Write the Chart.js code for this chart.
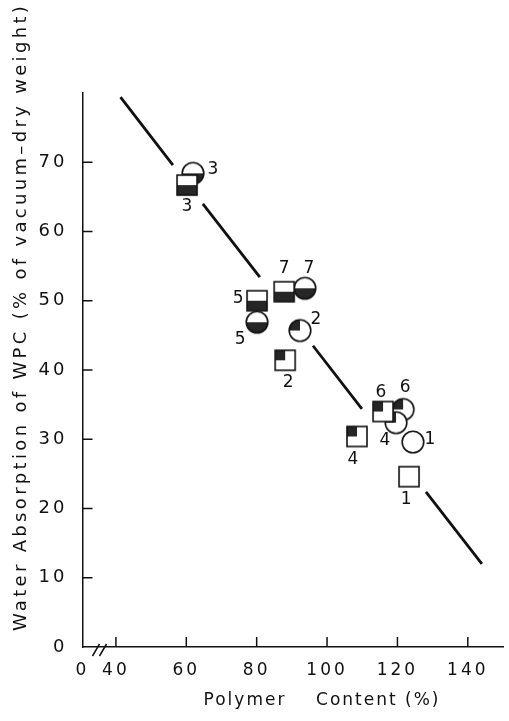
<!DOCTYPE html>
<html>
<head>
<meta charset="utf-8">
<script src="https://cdn.jsdelivr.net/npm/chart.js@4.4.1/dist/chart.umd.min.js"></script>
<style>
  html, body { margin: 0; padding: 0; background: #fff; }
  #wrap { width: 509px; height: 721px; position: relative; }
</style>
</head>
<body>
<div id="wrap"><canvas id="chart"></canvas></div>
<script>
// sample sets, drawn in this order (4 sits on top of 6)
const sets = ['1', '2', '3', '5', '6', '4', '7'];
const squareX = [123.3, 88.1, 60.2, 80.1, 115.9, 108.5, 87.8];
const squareY = [24.6, 41.4, 66.7, 50.0, 34.0, 30.4, 51.3];
const circleX = [124.4, 92.3, 61.9, 80.1, 121.6, 119.6, 93.7];
const circleY = [29.6, 45.7, 68.4, 46.9, 34.3, 32.4, 51.8];

// regression line, broken where it passes the markers
const lineX = [41.3, 56.2, null, 64.7, 80.9, null, 96.0, 109.9, null, 128.1, 144.0];
const lineY = [79.4, 69.6, null, 64.0, 53.4, null, 43.5, 34.4, null, 22.4, 12.0];

const xTicks = [40, 60, 80, 100, 120, 140];
const yTicks = [0, 10, 20, 30, 40, 50, 60, 70];
const xMin = 30.5, xMax = 150, yMin = 0, yMax = 80;

const xTitle = 'Polymer    Content (%)';
const yTitle = 'Water Absorption of WPC (% of vacuum\u2013dry weight)';

// marker look per set
const fillType = { '1': 'none', '2': 'quarter', '4': 'quarter', '6': 'quarter', '3': 'half', '5': 'half', '7': 'half' };
const squareLabelOffset = { '1': [-3, 23], '2': [3, 22], '3': [0, 21], '4': [-4, 23], '5': [-19, -2], '6': [-2, -19], '7': [0, -23] };
const circleLabelOffset = { '1': [17, -2], '2': [16, -11], '3': [20, -4], '4': [-11, 18], '5': [-17, 17], '6': [2, -22], '7': [4, -20] };

const FONT = '"DejaVu Sans", sans-serif';
const DARK = '#262626';

function makeMarker(shape, fill) {
  const c = document.createElement('canvas');
  c.width = 26; c.height = 26;
  const g = c.getContext('2d');
  const m = 13;
  g.lineWidth = 1.6;
  g.strokeStyle = '#111';
  if (shape === 'square') {
    const h = 10;
    g.fillStyle = '#fff';
    g.fillRect(m - h, m - h, 2 * h, 2 * h);
    g.fillStyle = DARK;
    if (fill === 'half') g.fillRect(m - h, m, 2 * h, h);
    if (fill === 'quarter') g.fillRect(m - h, m - h, h, h);
    g.strokeRect(m - h, m - h, 2 * h, 2 * h);
  } else {
    const r = 10.8;
    g.fillStyle = '#fff';
    g.beginPath(); g.arc(m, m, r, 0, 2 * Math.PI); g.fill();
    g.fillStyle = DARK;
    if (fill === 'half') {
      g.beginPath(); g.arc(m, m, r, 0, Math.PI); g.closePath(); g.fill();
    }
    if (fill === 'quarter') {
      g.beginPath(); g.moveTo(m, m); g.arc(m, m, r, Math.PI, 1.5 * Math.PI); g.closePath(); g.fill();
    }
    g.beginPath(); g.arc(m, m, r, 0, 2 * Math.PI); g.stroke();
  }
  return c;
}

const markers = {};
['square', 'circle'].forEach(s => {
  ['none', 'half', 'quarter'].forEach(f => { markers[s + f] = makeMarker(s, f); });
});

const decorations = {
  id: 'decorations',
  beforeDraw(chart) {
    chart.ctx.letterSpacing = '3px';
  },
  afterDraw(chart) {
    const ctx = chart.ctx;
    const xs = chart.scales.x, ys = chart.scales.y;
    const left = chart.chartArea.left, bottom = chart.chartArea.bottom;
    ctx.save();
    ctx.strokeStyle = '#111';
    ctx.lineWidth = 1.5;
    // inward tick marks
    ctx.beginPath();
    yTicks.forEach(v => {
      if (v === yMin) return;
      const y = ys.getPixelForValue(v);
      ctx.moveTo(left, y); ctx.lineTo(left + 10, y);
    });
    xTicks.forEach(v => {
      const x = xs.getPixelForValue(v);
      ctx.moveTo(x, bottom); ctx.lineTo(x, bottom - 10);
    });
    // axis break
    const bx = left + 10;
    ctx.moveTo(bx, bottom + 9); ctx.lineTo(bx + 7, bottom - 3);
    ctx.moveTo(bx + 7, bottom + 9); ctx.lineTo(bx + 14, bottom - 3);
    ctx.stroke();
    // point labels
    ctx.fillStyle = '#111';
    ctx.font = '17px ' + FONT;
    ctx.letterSpacing = '0px';
    ctx.textAlign = 'center';
    ctx.textBaseline = 'middle';
    const sq = chart.getDatasetMeta(1).data;
    const ci = chart.getDatasetMeta(2).data;
    sets.forEach((s, i) => {
      const a = squareLabelOffset[s], b = circleLabelOffset[s];
      ctx.fillText(s, sq[i].x + a[0], sq[i].y + a[1]);
      ctx.fillText(s, ci[i].x + b[0], ci[i].y + b[1]);
    });
    // axis titles
    ctx.font = '17px ' + FONT;
    ctx.letterSpacing = '2px';
    ctx.fillText(xTitle, 322, 701);
    ctx.translate(21, 317);
    ctx.rotate(-Math.PI / 2);
    ctx.font = '18px ' + FONT;
    ctx.letterSpacing = '0px';
    const w0 = ctx.measureText(yTitle).width;
    ctx.letterSpacing = ((628 - w0) / yTitle.length).toFixed(2) + 'px';
    ctx.fillText(yTitle, 0, 0);
    ctx.restore();
  }
};

new Chart(document.getElementById('chart'), {
  type: 'scatter',
  data: {
    datasets: [
      {
        type: 'line',
        data: lineX.map((x, i) => ({ x: x, y: lineY[i] })),
        borderColor: '#111',
        borderWidth: 2.8,
        pointRadius: 0,
        spanGaps: false,
        fill: false
      },
      {
        data: squareX.map((x, i) => ({ x: x, y: squareY[i] })),
        pointStyle: c => markers['square' + fillType[sets[c.dataIndex]]]
      },
      {
        data: circleX.map((x, i) => ({ x: x, y: circleY[i] })),
        pointStyle: c => markers['circle' + fillType[sets[c.dataIndex]]]
      }
    ]
  },
  options: {
    responsive: true,
    maintainAspectRatio: false,
    animation: false,
    layout: { padding: { top: 93, right: 6, left: 0, bottom: 0 } },
    plugins: { legend: { display: false }, tooltip: { enabled: false } },
    scales: {
      x: {
        type: 'linear',
        min: xMin,
        max: xMax,
        afterBuildTicks: s => { s.ticks = [xMin].concat(xTicks).map(v => ({ value: v })); },
        afterFit: s => { s.height = 74; },
        grid: { display: false },
        border: { display: true, color: '#111', width: 1.5 },
        ticks: {
          color: '#111',
          font: { family: FONT, size: 17 },
          padding: 5,
          maxRotation: 0,
          autoSkip: false,
          callback: v => (v === xMin ? '0' : String(v))
        }
      },
      y: {
        type: 'linear',
        min: yMin,
        max: yMax,
        afterBuildTicks: s => { s.ticks = yTicks.map(v => ({ value: v })); },
        afterFit: s => { s.width = 82.5; },
        grid: { display: false },
        border: { display: true, color: '#111', width: 1.5 },
        ticks: {
          color: '#111',
          font: { family: FONT, size: 18 },
          padding: 7,
          autoSkip: false
        }
      }
    }
  },
  plugins: [decorations]
});
</script>
</body>
</html>
